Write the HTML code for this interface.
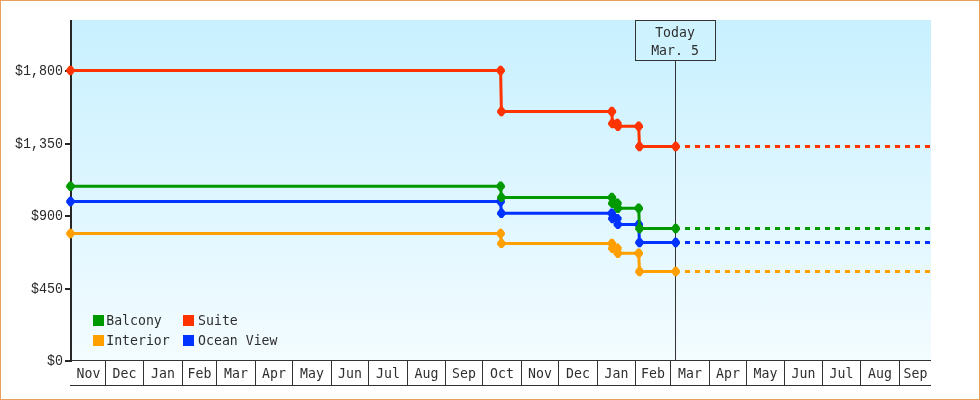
<!DOCTYPE html>
<html lang="en"><head><meta charset="utf-8"><title>Price history</title>
<style>html,body{margin:0;padding:0;background:#fff}body{width:980px;height:400px;overflow:hidden}svg{display:block}text.yl{font-family:"Liberation Mono",monospace;font-size:13.33px;fill:#2a2a2a}text{font-family:"DejaVu Sans Mono", "Liberation Mono", monospace;font-size:13.2px;fill:#2e2e2e}</style>
</head><body>
<svg width="980" height="400" viewBox="0 0 980 400">
<defs><linearGradient id="bg" x1="0" y1="0" x2="0" y2="1"><stop offset="0" stop-color="#c8f0ff"/><stop offset="1" stop-color="#f3fcff"/></linearGradient></defs>
<rect x="0" y="0" width="980" height="400" fill="#fff"/>
<rect x="0.5" y="0.5" width="979" height="399" fill="none" stroke="#e8a05a" stroke-width="1"/>
<rect x="72" y="20" width="859" height="340" fill="url(#bg)"/>
<g shape-rendering="crispEdges">
<rect x="72" y="360" width="859" height="1" fill="#333"/>
<rect x="70" y="385" width="861" height="1" fill="#333"/>
<rect x="105" y="360" width="1" height="26" fill="#333"/>
<rect x="143" y="360" width="1" height="26" fill="#333"/>
<rect x="182" y="360" width="1" height="26" fill="#333"/>
<rect x="216" y="360" width="1" height="26" fill="#333"/>
<rect x="255" y="360" width="1" height="26" fill="#333"/>
<rect x="292" y="360" width="1" height="26" fill="#333"/>
<rect x="331" y="360" width="1" height="26" fill="#333"/>
<rect x="368" y="360" width="1" height="26" fill="#333"/>
<rect x="407" y="360" width="1" height="26" fill="#333"/>
<rect x="445" y="360" width="1" height="26" fill="#333"/>
<rect x="482" y="360" width="1" height="26" fill="#333"/>
<rect x="521" y="360" width="1" height="26" fill="#333"/>
<rect x="558" y="360" width="1" height="26" fill="#333"/>
<rect x="597" y="360" width="1" height="26" fill="#333"/>
<rect x="635" y="360" width="1" height="26" fill="#333"/>
<rect x="670" y="360" width="1" height="26" fill="#333"/>
<rect x="709" y="360" width="1" height="26" fill="#333"/>
<rect x="746" y="360" width="1" height="26" fill="#333"/>
<rect x="784" y="360" width="1" height="26" fill="#333"/>
<rect x="822" y="360" width="1" height="26" fill="#333"/>
<rect x="860" y="360" width="1" height="26" fill="#333"/>
<rect x="899" y="360" width="1" height="26" fill="#333"/>
<rect x="70" y="20" width="2" height="342" fill="#262626"/>
<rect x="65" y="70" width="5" height="2" fill="#262626"/>
<rect x="65" y="143" width="5" height="2" fill="#262626"/>
<rect x="65" y="215" width="5" height="2" fill="#262626"/>
<rect x="65" y="288" width="5" height="2" fill="#262626"/>
<rect x="65" y="360" width="5" height="2" fill="#262626"/>
<rect x="675" y="60" width="1" height="300" fill="#333"/>
<rect x="635.5" y="20.5" width="80" height="40" fill="#cff2ff" stroke="#333" stroke-width="1"/>
</g>
<text class="yl" transform="translate(63.0,75.0) scale(1,1.14)" text-anchor="end">$1,800</text>
<text class="yl" transform="translate(63.0,148.0) scale(1,1.14)" text-anchor="end">$1,350</text>
<text class="yl" transform="translate(63.0,220.0) scale(1,1.14)" text-anchor="end">$900</text>
<text class="yl" transform="translate(63.0,293.0) scale(1,1.14)" text-anchor="end">$450</text>
<text class="yl" transform="translate(63.0,365.0) scale(1,1.14)" text-anchor="end">$0</text>
<text transform="translate(88.5,378.0) scale(1,1.04)" text-anchor="middle">Nov</text>
<text transform="translate(124.5,378.0) scale(1,1.04)" text-anchor="middle">Dec</text>
<text transform="translate(163.0,378.0) scale(1,1.04)" text-anchor="middle">Jan</text>
<text transform="translate(199.5,378.0) scale(1,1.04)" text-anchor="middle">Feb</text>
<text transform="translate(236.0,378.0) scale(1,1.04)" text-anchor="middle">Mar</text>
<text transform="translate(274.0,378.0) scale(1,1.04)" text-anchor="middle">Apr</text>
<text transform="translate(312.0,378.0) scale(1,1.04)" text-anchor="middle">May</text>
<text transform="translate(350.0,378.0) scale(1,1.04)" text-anchor="middle">Jun</text>
<text transform="translate(388.0,378.0) scale(1,1.04)" text-anchor="middle">Jul</text>
<text transform="translate(426.5,378.0) scale(1,1.04)" text-anchor="middle">Aug</text>
<text transform="translate(464.0,378.0) scale(1,1.04)" text-anchor="middle">Sep</text>
<text transform="translate(502.0,378.0) scale(1,1.04)" text-anchor="middle">Oct</text>
<text transform="translate(540.0,378.0) scale(1,1.04)" text-anchor="middle">Nov</text>
<text transform="translate(578.0,378.0) scale(1,1.04)" text-anchor="middle">Dec</text>
<text transform="translate(616.5,378.0) scale(1,1.04)" text-anchor="middle">Jan</text>
<text transform="translate(653.0,378.0) scale(1,1.04)" text-anchor="middle">Feb</text>
<text transform="translate(690.0,378.0) scale(1,1.04)" text-anchor="middle">Mar</text>
<text transform="translate(728.0,378.0) scale(1,1.04)" text-anchor="middle">Apr</text>
<text transform="translate(765.5,378.0) scale(1,1.04)" text-anchor="middle">May</text>
<text transform="translate(803.5,378.0) scale(1,1.04)" text-anchor="middle">Jun</text>
<text transform="translate(841.5,378.0) scale(1,1.04)" text-anchor="middle">Jul</text>
<text transform="translate(880.0,378.0) scale(1,1.04)" text-anchor="middle">Aug</text>
<text transform="translate(915.5,378.0) scale(1,1.04)" text-anchor="middle">Sep</text>
<text transform="translate(675.0,37.0) scale(1,1.04)" text-anchor="middle">Today</text>
<text transform="translate(675.0,55.0) scale(1,1.04)" text-anchor="middle">Mar. 5</text>
<rect x="93" y="315" width="11" height="11" fill="#009900" shape-rendering="crispEdges"/>
<text transform="translate(106.2,325.0) scale(1,1.04)" text-anchor="start">Balcony</text>
<rect x="93" y="335" width="11" height="11" fill="#ff9f00" shape-rendering="crispEdges"/>
<text transform="translate(106.2,345.0) scale(1,1.04)" text-anchor="start">Interior</text>
<rect x="183" y="315" width="11" height="11" fill="#ff3300" shape-rendering="crispEdges"/>
<text transform="translate(198.1,325.0) scale(1,1.04)" text-anchor="start">Suite</text>
<rect x="183" y="335" width="11" height="11" fill="#0033ff" shape-rendering="crispEdges"/>
<text transform="translate(198.1,345.0) scale(1,1.04)" text-anchor="start">Ocean View</text>
<path d="M70.5 201.5 L500.6 201.5 L501.4 213.3 L611.8 213.3 L612.4 218.6 L617.3 218.6 L617.9 224.4 L638.7 224.4 L639.5 242.5 L675.7 242.5" fill="none" stroke="#0033ff" stroke-width="3" stroke-linejoin="round"/>
<path d="M685 242.5 H931" fill="none" stroke="#0033ff" stroke-width="3" stroke-dasharray="5 5" shape-rendering="crispEdges"/>
<path d="M66.2 200.5 L69.2 196.8 L71.8 196.8 L74.8 200.5 L74.8 202.5 L71.8 206.2 L69.2 206.2 L66.2 202.5z" fill="#0033ff"/>
<path d="M496.3 200.5 L499.3 196.8 L501.9 196.8 L504.9 200.5 L504.9 202.5 L501.9 206.2 L499.3 206.2 L496.3 202.5z" fill="#0033ff"/>
<path d="M497.1 212.3 L500.1 208.6 L502.7 208.6 L505.7 212.3 L505.7 214.3 L502.7 218.0 L500.1 218.0 L497.1 214.3z" fill="#0033ff"/>
<path d="M607.5 212.3 L610.5 208.6 L613.1 208.6 L616.1 212.3 L616.1 214.3 L613.1 218.0 L610.5 218.0 L607.5 214.3z" fill="#0033ff"/>
<path d="M608.1 217.6 L611.1 213.9 L613.7 213.9 L616.7 217.6 L616.7 219.6 L613.7 223.3 L611.1 223.3 L608.1 219.6z" fill="#0033ff"/>
<path d="M613.0 217.6 L616.0 213.9 L618.6 213.9 L621.6 217.6 L621.6 219.6 L618.6 223.3 L616.0 223.3 L613.0 219.6z" fill="#0033ff"/>
<path d="M613.6 223.4 L616.6 219.7 L619.2 219.7 L622.2 223.4 L622.2 225.4 L619.2 229.1 L616.6 229.1 L613.6 225.4z" fill="#0033ff"/>
<path d="M634.4 223.4 L637.4 219.7 L640.0 219.7 L643.0 223.4 L643.0 225.4 L640.0 229.1 L637.4 229.1 L634.4 225.4z" fill="#0033ff"/>
<path d="M635.2 241.5 L638.2 237.8 L640.8 237.8 L643.8 241.5 L643.8 243.5 L640.8 247.2 L638.2 247.2 L635.2 243.5z" fill="#0033ff"/>
<path d="M671.4 241.5 L674.4 237.8 L677.0 237.8 L680.0 241.5 L680.0 243.5 L677.0 247.2 L674.4 247.2 L671.4 243.5z" fill="#0033ff"/>
<path d="M70.5 233.5 L500.6 233.5 L501.4 243.4 L611.8 243.4 L612.4 248.3 L617.3 248.3 L617.9 253.2 L638.7 253.2 L639.5 271.5 L675.7 271.5" fill="none" stroke="#ff9f00" stroke-width="3" stroke-linejoin="round"/>
<path d="M685 271.5 H931" fill="none" stroke="#ff9f00" stroke-width="3" stroke-dasharray="5 5" shape-rendering="crispEdges"/>
<path d="M66.2 232.5 L69.2 228.8 L71.8 228.8 L74.8 232.5 L74.8 234.5 L71.8 238.2 L69.2 238.2 L66.2 234.5z" fill="#ff9f00"/>
<path d="M496.3 232.5 L499.3 228.8 L501.9 228.8 L504.9 232.5 L504.9 234.5 L501.9 238.2 L499.3 238.2 L496.3 234.5z" fill="#ff9f00"/>
<path d="M497.1 242.4 L500.1 238.7 L502.7 238.7 L505.7 242.4 L505.7 244.4 L502.7 248.1 L500.1 248.1 L497.1 244.4z" fill="#ff9f00"/>
<path d="M607.5 242.4 L610.5 238.7 L613.1 238.7 L616.1 242.4 L616.1 244.4 L613.1 248.1 L610.5 248.1 L607.5 244.4z" fill="#ff9f00"/>
<path d="M608.1 247.3 L611.1 243.6 L613.7 243.6 L616.7 247.3 L616.7 249.3 L613.7 253.0 L611.1 253.0 L608.1 249.3z" fill="#ff9f00"/>
<path d="M613.0 247.3 L616.0 243.6 L618.6 243.6 L621.6 247.3 L621.6 249.3 L618.6 253.0 L616.0 253.0 L613.0 249.3z" fill="#ff9f00"/>
<path d="M613.6 252.2 L616.6 248.5 L619.2 248.5 L622.2 252.2 L622.2 254.2 L619.2 257.9 L616.6 257.9 L613.6 254.2z" fill="#ff9f00"/>
<path d="M634.4 252.2 L637.4 248.5 L640.0 248.5 L643.0 252.2 L643.0 254.2 L640.0 257.9 L637.4 257.9 L634.4 254.2z" fill="#ff9f00"/>
<path d="M635.2 270.5 L638.2 266.8 L640.8 266.8 L643.8 270.5 L643.8 272.5 L640.8 276.2 L638.2 276.2 L635.2 272.5z" fill="#ff9f00"/>
<path d="M671.4 270.5 L674.4 266.8 L677.0 266.8 L680.0 270.5 L680.0 272.5 L677.0 276.2 L674.4 276.2 L671.4 272.5z" fill="#ff9f00"/>
<path d="M70.5 70.5 L500.6 70.5 L501.4 111.5 L611.8 111.5 L612.4 123.5 L617.3 123.5 L617.9 126.2 L638.7 126.2 L639.5 146.5 L675.7 146.5" fill="none" stroke="#ff3300" stroke-width="3" stroke-linejoin="round"/>
<path d="M685 146.5 H931" fill="none" stroke="#ff3300" stroke-width="3" stroke-dasharray="5 5" shape-rendering="crispEdges"/>
<path d="M66.2 69.5 L69.2 65.8 L71.8 65.8 L74.8 69.5 L74.8 71.5 L71.8 75.2 L69.2 75.2 L66.2 71.5z" fill="#ff3300"/>
<path d="M496.3 69.5 L499.3 65.8 L501.9 65.8 L504.9 69.5 L504.9 71.5 L501.9 75.2 L499.3 75.2 L496.3 71.5z" fill="#ff3300"/>
<path d="M497.1 110.5 L500.1 106.8 L502.7 106.8 L505.7 110.5 L505.7 112.5 L502.7 116.2 L500.1 116.2 L497.1 112.5z" fill="#ff3300"/>
<path d="M607.5 110.5 L610.5 106.8 L613.1 106.8 L616.1 110.5 L616.1 112.5 L613.1 116.2 L610.5 116.2 L607.5 112.5z" fill="#ff3300"/>
<path d="M608.1 122.5 L611.1 118.8 L613.7 118.8 L616.7 122.5 L616.7 124.5 L613.7 128.2 L611.1 128.2 L608.1 124.5z" fill="#ff3300"/>
<path d="M613.0 122.5 L616.0 118.8 L618.6 118.8 L621.6 122.5 L621.6 124.5 L618.6 128.2 L616.0 128.2 L613.0 124.5z" fill="#ff3300"/>
<path d="M613.6 125.2 L616.6 121.5 L619.2 121.5 L622.2 125.2 L622.2 127.2 L619.2 130.9 L616.6 130.9 L613.6 127.2z" fill="#ff3300"/>
<path d="M634.4 125.2 L637.4 121.5 L640.0 121.5 L643.0 125.2 L643.0 127.2 L640.0 130.9 L637.4 130.9 L634.4 127.2z" fill="#ff3300"/>
<path d="M635.2 145.5 L638.2 141.8 L640.8 141.8 L643.8 145.5 L643.8 147.5 L640.8 151.2 L638.2 151.2 L635.2 147.5z" fill="#ff3300"/>
<path d="M671.4 145.5 L674.4 141.8 L677.0 141.8 L680.0 145.5 L680.0 147.5 L677.0 151.2 L674.4 151.2 L671.4 147.5z" fill="#ff3300"/>
<path d="M70.5 186.3 L500.6 186.3 L501.4 197.4 L611.8 197.4 L612.4 203.2 L617.3 203.2 L617.9 208.2 L638.7 208.2 L639.5 228.5 L675.7 228.5" fill="none" stroke="#009900" stroke-width="3" stroke-linejoin="round"/>
<path d="M685 228.5 H931" fill="none" stroke="#009900" stroke-width="3" stroke-dasharray="5 5" shape-rendering="crispEdges"/>
<path d="M66.2 185.3 L69.2 181.6 L71.8 181.6 L74.8 185.3 L74.8 187.3 L71.8 191.0 L69.2 191.0 L66.2 187.3z" fill="#009900"/>
<path d="M496.3 185.3 L499.3 181.6 L501.9 181.6 L504.9 185.3 L504.9 187.3 L501.9 191.0 L499.3 191.0 L496.3 187.3z" fill="#009900"/>
<path d="M497.1 196.4 L500.1 192.7 L502.7 192.7 L505.7 196.4 L505.7 198.4 L502.7 202.1 L500.1 202.1 L497.1 198.4z" fill="#009900"/>
<path d="M607.5 196.4 L610.5 192.7 L613.1 192.7 L616.1 196.4 L616.1 198.4 L613.1 202.1 L610.5 202.1 L607.5 198.4z" fill="#009900"/>
<path d="M608.1 202.2 L611.1 198.5 L613.7 198.5 L616.7 202.2 L616.7 204.2 L613.7 207.9 L611.1 207.9 L608.1 204.2z" fill="#009900"/>
<path d="M613.0 202.2 L616.0 198.5 L618.6 198.5 L621.6 202.2 L621.6 204.2 L618.6 207.9 L616.0 207.9 L613.0 204.2z" fill="#009900"/>
<path d="M613.6 207.2 L616.6 203.5 L619.2 203.5 L622.2 207.2 L622.2 209.2 L619.2 212.9 L616.6 212.9 L613.6 209.2z" fill="#009900"/>
<path d="M634.4 207.2 L637.4 203.5 L640.0 203.5 L643.0 207.2 L643.0 209.2 L640.0 212.9 L637.4 212.9 L634.4 209.2z" fill="#009900"/>
<path d="M635.2 227.5 L638.2 223.8 L640.8 223.8 L643.8 227.5 L643.8 229.5 L640.8 233.2 L638.2 233.2 L635.2 229.5z" fill="#009900"/>
<path d="M671.4 227.5 L674.4 223.8 L677.0 223.8 L680.0 227.5 L680.0 229.5 L677.0 233.2 L674.4 233.2 L671.4 229.5z" fill="#009900"/>
</svg>
</body></html>
